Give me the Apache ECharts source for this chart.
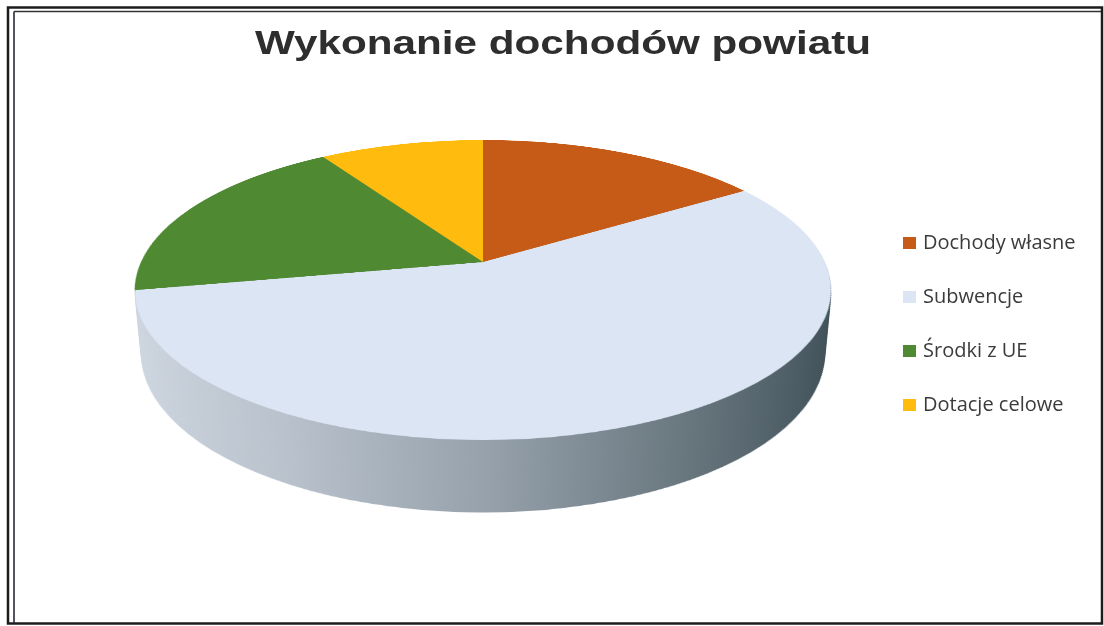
<!DOCTYPE html>
<html>
<head>
<meta charset="utf-8">
<script src="https://cdn.jsdelivr.net/npm/echarts@6/dist/echarts.min.js"></script>
<style>
  html, body { margin: 0; padding: 0; background: #fff; }
  #stage { position: relative; width: 1104px; height: 626px; overflow: hidden; }
  #main { position: absolute; left: 0; top: 0; width: 1104px; height: 626px; }
  .disc { position: absolute; width: 700px; height: 700px; transform-origin: 50% 50%; }
</style>
</head>
<body>
<div id="stage"><div id="main"></div></div>
<script>
// Revenue structure of the district (share of total, %)
const categories = ['Dochody własne', 'Subwencje', 'Środki z UE', 'Dotacje celowe'];
const shares = [15.9, 56.1, 18.9, 9.1];
const faceColors = ['#c65b17', '#dce5f4', '#4f8a33', '#ffbb0e'];
// Rim (side wall) shading, light to dark from left to right
const sideStops = [
  ['#b8581c', '#7c3510'],
  ['#cfd7e1', '#b9c2cc', '#96a1ab', '#68767e', '#3d4e56'],
  ['#47802c', '#2c561a'],
  ['#e8a800', '#a87700']
];
const titleText = 'Wykonanie dochodów powiatu';

// Disc placement and 3D view
const DISC = { cx: 483, cy: 262, r: 342, tilt: 64.95, persp: 1660, depth: 70, step: 2 };

function gradient(stops) {
  return {
    type: 'linear', x: 0, y: 0, x2: 1, y2: 0,
    colorStops: stops.map((c, i) => ({ offset: i / (stops.length - 1), color: c }))
  };
}

function pieOption(colors) {
  return {
    animation: false,
    series: [{
      type: 'pie',
      radius: DISC.r,
      center: ['50%', '50%'],
      startAngle: 90,
      clockwise: true,
      silent: true,
      avoidLabelOverlap: false,
      label: { show: false },
      labelLine: { show: false },
      emphasis: { disabled: true },
      itemStyle: { borderWidth: 0 },
      data: categories.map((name, i) => ({ name, value: shares[i], itemStyle: { color: colors[i] } }))
    }]
  };
}

const stage = document.getElementById('stage');
function addDisc(z, colors) {
  const el = document.createElement('div');
  el.className = 'disc';
  el.style.left = (DISC.cx - 350) + 'px';
  el.style.top = (DISC.cy - 350) + 'px';
  el.style.transform = `perspective(${DISC.persp}px) rotateX(${DISC.tilt}deg) translateZ(${-z}px)`;
  stage.appendChild(el);
  const c = echarts.init(el, null, { renderer: 'svg', width: 700, height: 700 });
  c.setOption(pieOption(colors));
}

// Side wall: stacked copies of the pie down the disc thickness
const sideColors = sideStops.map(gradient);
for (let z = DISC.depth; z > 0; z -= DISC.step) addDisc(z, sideColors);
// Top face
addDisc(0, faceColors);

// Title width stretch
const ctx = document.createElement('canvas').getContext('2d');
const titleFont = 'bold 34px "Liberation Sans"';
ctx.font = titleFont;
const titleScale = 616 / ctx.measureText(titleText).width;

const main = echarts.init(document.getElementById('main'), null, { renderer: 'canvas' });
main.setOption({
  animation: false,
  backgroundColor: '#ffffff',
  legend: {
    orient: 'vertical',
    left: 903,
    top: 233,
    padding: 0,
    itemWidth: 13,
    itemHeight: 12,
    itemGap: 34,
    icon: 'rect',
    selectedMode: false,
    textStyle: { fontFamily: 'Open Sans', fontSize: 20, lineHeight: 20, color: '#3b3b3b', padding: [0, 0, 0, 2] },
    data: categories
  },
  series: [{
    type: 'pie',
    radius: 0,
    center: [-50, -50],
    silent: true,
    label: { show: false },
    labelLine: { show: false },
    data: categories.map((name, i) => ({ name, value: shares[i], itemStyle: { color: faceColors[i] } }))
  }],
  graphic: [
    {
      type: 'text', x: 563, y: 45, scaleX: titleScale,
      style: { text: titleText, font: titleFont, fill: '#2e2e2e', align: 'center', verticalAlign: 'middle' }
    },
    { type: 'rect', shape: { x: 8, y: 7.5, width: 1094, height: 616 }, style: { fill: null, stroke: '#1c1c1c', lineWidth: 2.5 } },
    { type: 'line', shape: { x1: 14, y1: 11.5, x2: 14, y2: 623 }, style: { stroke: '#2a2a3a', lineWidth: 1.6 } },
    { type: 'line', shape: { x1: 14, y1: 11.5, x2: 1101, y2: 11.5 }, style: { stroke: '#333333', lineWidth: 1.4 } }
  ]
});
</script>
</body>
</html>
